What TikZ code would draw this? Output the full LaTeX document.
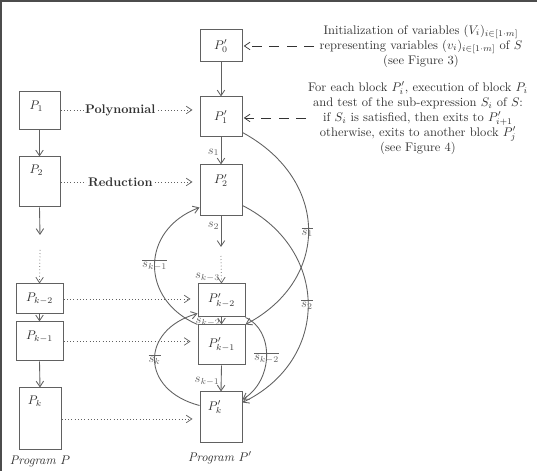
\documentclass[tikz,border=0pt]{standalone}
\usetikzlibrary{arrows.meta,calc}
\definecolor{linec}{gray}{0.38}
\definecolor{textc}{gray}{0.2}
\def\u{0.8pt}
\begin{document}
\begin{tikzpicture}[x=0.8pt,y=-0.8pt,
  box/.style={draw=linec, line width=0.8pt, inner sep=0pt, text=textc},
  tip/.style={-{Straight Barb[length=4.5pt,width=6pt]}},
  arr/.style={tip, draw=linec, line width=0.7pt},
  dotarr/.style={tip, draw=linec, line width=0.6pt, dash pattern=on 0.6pt off 2pt},
  dasharr/.style={tip, draw=textc, line width=0.6pt, dash pattern=on 8pt off 6pt},
  lab/.style={text=linec, inner sep=1pt},
  blab/.style={text=textc, inner sep=0pt}]
\useasboundingbox (0,0) rectangle (537,471);
\draw[line width=1.6pt, black!70] (0,1) -- (537,1);
\draw[line width=1.6pt, black!70] (1,0) -- (1,471);

% Program P'
\node[box, minimum width=42*\u, minimum height=32*\u] (P0p) at (221,46) {$P'_0$};
\node[box, minimum width=42*\u, minimum height=40*\u] (P1p) at (221,117) {$P'_1$};
\node[box, minimum width=42*\u, minimum height=51*\u] (P2p) at (221,190.5) {};
\node[blab] (P2pl) at ([yshift=-16*\u]P2p.north) {$P'_2$};
\node[box, minimum width=47*\u, minimum height=33*\u] (Pk2p) at (221.5,300.5) {$P'_{k-2}$};
\node[box, minimum width=47*\u, minimum height=40*\u] (Pk1p) at (221.5,345) {$P'_{k-1}$};
\node[box, minimum width=42*\u, minimum height=51*\u] (Pkp) at (221,417.5) {};
\node[blab] (Pkpl) at ([xshift=-6*\u,yshift=-16*\u]Pkp.north) {$P'_k$};

% Program P
\node[box, minimum width=41*\u, minimum height=38*\u] (P1) at (39.5,111) {};
\node[blab] (P1l) at ([xshift=-3*\u,yshift=-15*\u]P1.north) {$P_1$};
\node[box, minimum width=41*\u, minimum height=50*\u] (P2) at (39.5,182) {};
\node[blab] (P2l) at ([xshift=-3*\u,yshift=-14*\u]P2.north) {$P_2$};
\node[box, minimum width=47*\u, minimum height=30*\u] (Pk2) at (39.5,299) {$P_{k-2}$};
\node[box, minimum width=47*\u, minimum height=39*\u] (Pk1) at (39.5,341.5) {};
\node[blab] (Pk1l) at ([yshift=-15*\u]Pk1.north) {$P_{k-1}$};
\node[box, minimum width=42*\u, minimum height=62*\u] (Pk) at (40,419) {};
\node[blab] (Pkl) at ([xshift=-5*\u,yshift=-14*\u]Pk.north) {$P_k$};

% vertical arrows, P
\coordinate (b2) at (40,235);
\coordinate (e2) at (40,250);
\draw[arr] (P1.south) -- (P2.north);
\draw[arr] (P2.south) -- (b2);
\draw[dotarr] (e2) -- (Pk2.north);
\draw[arr] (Pk2.south) -- (Pk1.north);
\draw[arr] (Pk1.south) -- (Pk.north);

% vertical arrows, P'
\coordinate (a2) at (221,247);
\coordinate (d2) at (221,256);
\draw[arr] (P0p.south) -- (P1p.north);
\draw[arr] (P1p.south) -- node[lab, left, pos=0.55] {$s_1$} (P2p.north);
\draw[arr] (P2p.south) -- node[lab, left, pos=0.3] {$s_2$} (a2);
\draw[dotarr] (d2) -- (Pk2p.north) node[lab, anchor=south east] {$s_{k-3}$};
\draw[arr] (Pk2p.south) node[lab, anchor=north east, inner sep=0.5pt] {$s_{k-2}$} -- (Pk1p.north);
\draw[arr] (Pk1p.south) -- node[lab, left, pos=0.6] {$s_{k-1}$} (Pkp.north);

% dotted reduction arrows
\draw[dotarr, shorten >=7*\u] ([yshift=0.8pt]P1.east) -- node[pos=0.43, fill=white, inner sep=1pt, text=textc, font=\bfseries] {Polynomial} ([yshift=0.8pt]P1.east -| P1p.west);
\draw[dotarr, shorten >=7*\u] (P2.east) -- node[pos=0.43, fill=white, inner sep=1pt, text=textc, font=\bfseries] {Reduction} (P2.east -| P2p.west);
\draw[dotarr, shorten >=7*\u] (Pk2.east) -- (Pk2.east -| Pk2p.west);
\draw[dotarr, shorten >=7*\u] (Pk1.east) -- (Pk1.east -| Pk1p.west);
\draw[dotarr, shorten >=7*\u] (Pk.east) -- (Pk.east -| Pkp.west);

% curves
\draw[arr] ([yshift=5*\u]P1p.south east) .. controls (330,180) and (330,280) .. (Pk1p.north east)
  node[lab, pos=0.5, yshift=-2pt, xshift=-1pt] {$\overline{s_1}$};
\draw[arr] ([yshift=11*\u]P2p.south east) .. controls (330,250) and (330,360) .. ([yshift=-11*\u]Pkp.north east)
  node[lab, pos=0.5, xshift=-1pt] {$\overline{s_2}$};
\draw[arr] (Pk1p.north west) .. controls (140,300) and (140,230) .. ([yshift=9*\u]P2p.south west)
  node[lab, pos=0.5] {$\overline{s_{k-1}}$};
\draw[arr] ([yshift=-14*\u]Pkp.north west) .. controls (140,390) and (140,330) .. ([yshift=4*\u]Pk2p.south west)
  node[lab, pos=0.5] {$\overline{s_k}$};
\draw[arr] (Pk2p.south east) .. controls (274,330) and (274,380) .. ([yshift=-8*\u]Pkp.north east)
  node[lab, pos=0.5, yshift=-2pt] {$\overline{s_{k-2}}$};

% explanation texts
\node[text=textc, align=center, inner sep=0pt] (T1) at (421,46)
  {Initialization of variables $(V_i)_{i\in[1\cdot m]}$\\
   representing variables $(v_i)_{i\in[1\cdot m]}$ of $S$\\
   (see Figure 3)};
\node[text=textc, align=center, inner sep=0pt] (T2) at (418,118)
  {For each block $P'_i$, execution of block $P_i$\\
   and test of the sub-expression $S_i$ of $S$:\\
   if $S_i$ is satisfied, then exits to $P'_{i+1}$\\
   otherwise, exits to another block $P'_j$\\
   (see Figure 4)};
\coordinate (t1) at (314,46);
\coordinate (t2) at (306,118);
\draw[dasharr, shorten >=1pt] (t1) -- (P0p.east);
\draw[dasharr, shorten >=1pt] (t2) -- (t2 -| P1p.east);

% captions
\node[text=textc, font=\itshape] (CP) at (40,462) {Program $P$};
\node[text=textc, font=\itshape] (CPp) at (220,458) {Program $P'$};
\end{tikzpicture}
\end{document}
